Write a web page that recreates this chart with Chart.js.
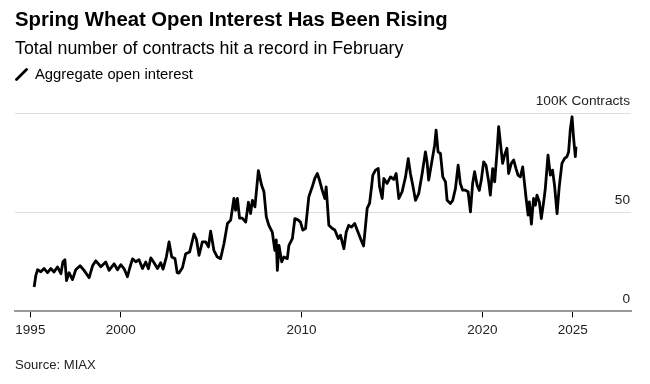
<!DOCTYPE html>
<html>
<head>
<meta charset="utf-8">
<script src="https://cdn.jsdelivr.net/npm/chart.js@4"></script>
<style>
  body { margin: 0; background: #fff; font-family: "Liberation Sans", Arial, sans-serif; color: #000; }
  #wrap { position: relative; width: 650px; height: 384px; overflow: hidden; }
  #chart { position: absolute; left: 0; top: 0; }
  .txt { position: absolute; left: 15px; white-space: nowrap; line-height: 1.15; }
  #title { top: 8px; font-size: 20.3px; font-weight: bold; }
  #subtitle { top: 38px; font-size: 17.8px; }
  #legend { top: 66px; left: 35px; font-size: 14.8px; }
  #legicon { position: absolute; left: 15px; top: 68px; width: 13px; height: 13px; }
  #source { top: 357px; font-size: 13.1px; color: #222; }
</style>
</head>
<body>
<div id="wrap">
  <canvas id="chart" width="650" height="384"></canvas>
  <div class="txt" id="title">Spring Wheat Open Interest Has Been Rising</div>
  <div class="txt" id="subtitle">Total number of contracts hit a record in February</div>
  <svg id="legicon" viewBox="0 0 13 13"><line x1="1.5" y1="11.5" x2="11.5" y2="1.5" stroke="#000" stroke-width="2.8" stroke-linecap="round"/></svg>
  <div class="txt" id="legend">Aggregate open interest</div>
  <div class="txt" id="source">Source: MIAX</div>
</div>
<script>
// 読み取った値（年の小数表記、千枚単位）
const years = [
  1995.21, 1995.30, 1995.40, 1995.58, 1995.76, 1995.95, 1996.13, 1996.31, 1996.50, 1996.69,
  1996.80, 1996.91, 1997.00, 1997.14, 1997.33, 1997.51, 1997.75, 1997.97, 1998.25, 1998.44,
  1998.62, 1998.90, 1999.17, 1999.35, 1999.63, 1999.82, 2000.00, 2000.18, 2000.37, 2000.50,
  2000.65, 2000.83, 2001.01, 2001.20, 2001.38, 2001.53, 2001.66, 2001.84, 2002.03, 2002.21,
  2002.34, 2002.52, 2002.67, 2002.82, 2003.00, 2003.12, 2003.22, 2003.41, 2003.59, 2003.81,
  2004.05, 2004.18, 2004.33, 2004.51, 2004.70, 2004.85, 2004.97, 2005.15, 2005.34, 2005.52,
  2005.71, 2005.90, 2006.08, 2006.26, 2006.35, 2006.45, 2006.57, 2006.72, 2006.91, 2007.06,
  2007.18, 2007.28, 2007.42, 2007.61, 2007.79, 2007.92, 2008.05, 2008.19, 2008.38, 2008.52,
  2008.60, 2008.66, 2008.75, 2008.90, 2009.02, 2009.21, 2009.30, 2009.49, 2009.63, 2009.82,
  2009.94, 2010.07, 2010.22, 2010.40, 2010.59, 2010.73, 2010.87, 2010.99, 2011.14, 2011.29,
  2011.36, 2011.51, 2011.70, 2011.84, 2012.03, 2012.15, 2012.34, 2012.47, 2012.61, 2012.76,
  2012.94, 2013.08, 2013.26, 2013.43, 2013.63, 2013.76, 2013.87, 2013.94, 2014.09, 2014.24,
  2014.31, 2014.46, 2014.55, 2014.73, 2014.92, 2015.10, 2015.23, 2015.38, 2015.56, 2015.75,
  2015.90, 2016.02, 2016.15, 2016.30, 2016.48, 2016.67, 2016.85, 2016.94, 2017.03, 2017.22,
  2017.36, 2017.44, 2017.55, 2017.68, 2017.81, 2017.96, 2018.05, 2018.23, 2018.36, 2018.51,
  2018.66, 2018.78, 2018.91, 2019.06, 2019.21, 2019.34, 2019.46, 2019.57, 2019.71, 2019.83,
  2019.94, 2020.07, 2020.20, 2020.35, 2020.44, 2020.57, 2020.68, 2020.81, 2020.90, 2020.99,
  2021.12, 2021.23, 2021.36, 2021.45, 2021.60, 2021.73, 2021.86, 2021.97, 2022.10, 2022.23,
  2022.34, 2022.42, 2022.53, 2022.60, 2022.71, 2022.83, 2022.93, 2023.02, 2023.15, 2023.26,
  2023.39, 2023.48, 2023.63, 2023.76, 2023.88, 2023.99, 2024.13, 2024.25, 2024.40, 2024.55,
  2024.68, 2024.77, 2024.86, 2024.96, 2025.04, 2025.14, 2025.18
];
const openInterest = [
  12.3, 18.0, 21.0, 20.0, 21.6, 19.5, 21.6, 19.9, 22.4, 19.0,
  25.0, 26.0, 15.5, 19.5, 16.0, 21.0, 23.0, 20.7, 17.0, 23.0,
  25.5, 22.5, 24.9, 20.7, 24.0, 21.0, 23.5, 21.6, 17.5, 22.0,
  26.5, 25.0, 26.0, 21.6, 24.9, 21.5, 27.0, 24.5, 21.6, 24.5,
  21.3, 27.4, 35.0, 27.4, 26.6, 19.5, 19.3, 22.0, 29.0, 30.0,
  39.0, 36.5, 28.3, 35.0, 35.0, 32.5, 40.5, 30.8, 27.4, 26.6,
  34.2, 44.3, 46.0, 57.0, 51.0, 57.0, 47.0, 47.0, 45.0, 55.0,
  49.3, 56.0, 52.7, 71.0, 63.6, 60.3, 47.6, 43.4, 40.0, 30.8,
  36.0, 20.7, 33.3, 25.0, 27.4, 26.6, 33.3, 36.7, 46.8, 46.0,
  45.0, 41.0, 41.8, 57.7, 62.8, 67.0, 69.5, 66.2, 61.1, 56.9,
  62.8, 43.4, 41.8, 41.0, 36.7, 38.4, 31.6, 40.0, 43.4, 42.5,
  44.3, 40.9, 36.7, 33.0, 52.0, 54.4, 62.8, 68.7, 71.2, 72.0,
  63.0, 56.9, 67.0, 64.5, 67.8, 66.5, 69.5, 56.9, 60.3, 67.8,
  77.0, 69.5, 63.6, 56.0, 59.4, 69.5, 80.4, 75.4, 66.2, 76.3,
  83.8, 91.4, 80.4, 79.6, 67.8, 65.3, 56.0, 54.4, 56.0, 61.9,
  73.7, 64.5, 61.1, 61.1, 60.3, 50.2, 64.5, 70.4, 63.6, 61.0,
  66.2, 75.4, 73.7, 65.3, 58.6, 72.0, 65.3, 80.4, 93.1, 85.5,
  74.6, 78.8, 82.2, 69.5, 74.6, 76.3, 72.0, 68.7, 67.8, 72.8,
  63.6, 56.9, 48.5, 55.2, 44.0, 56.9, 53.5, 58.6, 55.2, 46.8,
  55.2, 61.9, 78.8, 68.7, 71.2, 63.6, 49.3, 62.8, 74.6, 77.1,
  78.0, 80.4, 91.4, 98.1, 88.0, 78.0, 83.0
];
const tickYears = [1995, 2000, 2010, 2020, 2025];
const yTickValues = [0, 50, 100];
const yTickLabels = ['0', '50', '100K Contracts'];

// 右側のY軸ラベル（グリッド線の上に描く）
const yLabelPlugin = {
  id: 'yLabels',
  afterDraw(chart) {
    const ctx = chart.ctx;
    const y = chart.scales.y;
    ctx.save();
    ctx.font = '13.7px "Liberation Sans", Arial, sans-serif';
    ctx.fillStyle = '#222';
    ctx.textAlign = 'right';
    ctx.textBaseline = 'alphabetic';
    yTickValues.forEach((v, i) => {
      ctx.fillText(yTickLabels[i], chart.chartArea.right - 1, y.getPixelForValue(v) - 8);
    });
    ctx.restore();
  }
};

const ctx = document.getElementById('chart').getContext('2d');
new Chart(ctx, {
  type: 'line',
  data: {
    datasets: [{
      data: years.map((yr, i) => ({ x: yr, y: openInterest[i] })),
      borderColor: '#000',
      borderWidth: 2.8,
      pointRadius: 0,
      tension: 0,
      borderJoinStyle: 'round'
    }]
  },
  options: {
    responsive: false,
    animation: false,
    layout: { padding: { left: 15, right: 19, top: 113, bottom: 40.4 } },
    plugins: { legend: { display: false }, tooltip: { enabled: false } },
    scales: {
      x: {
        type: 'linear',
        min: 1994.15,
        max: 2028.22,
        afterBuildTicks: (s) => { s.ticks = tickYears.map(v => ({ value: v })); },
        grid: { drawOnChartArea: false, drawTicks: true, tickLength: 6, color: '#000', lineWidth: 1 },
        border: { display: true, color: '#999', width: 2 },
        ticks: {
          autoSkip: false,
          maxRotation: 0,
          padding: 5,
          color: '#222',
          font: { family: '"Liberation Sans", Arial, sans-serif', size: 13.5 },
          callback: (v) => String(v)
        }
      },
      y: {
        min: 0,
        max: 100,
        afterBuildTicks: (s) => { s.ticks = yTickValues.map(v => ({ value: v })); },
        grid: { drawTicks: false, color: '#ddd', lineWidth: 1 },
        border: { display: false },
        ticks: { display: false }
      }
    }
  },
  plugins: [yLabelPlugin]
});
</script>
</body>
</html>
